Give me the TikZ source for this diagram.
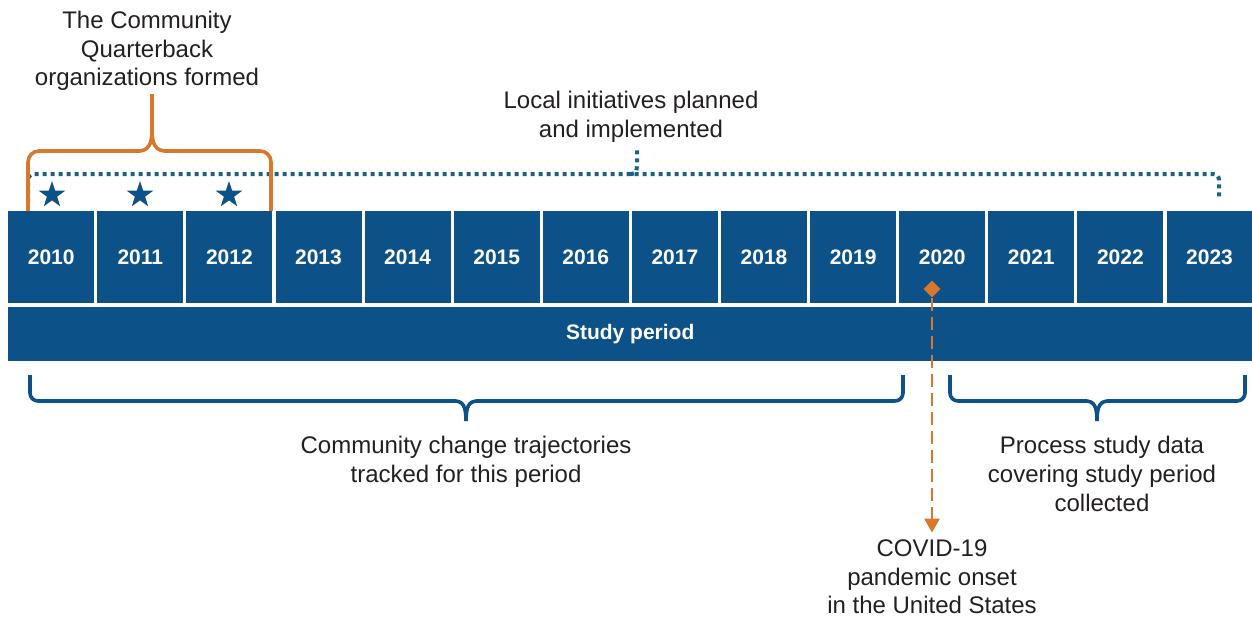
\documentclass[tikz,border=0pt]{standalone}
\usepackage{fontspec}
\setmainfont{Liberation Sans}
\usepackage{tikz}
\usetikzlibrary{arrows.meta}
\usetikzlibrary{positioning}
\usetikzlibrary{shapes}
\definecolor{studyBlue}{HTML}{0D5189}
\definecolor{dotBlue}{HTML}{1B6289}
\definecolor{covidOrange}{HTML}{D9782B}
\definecolor{textGrey}{HTML}{231F20}

\begin{document}
\begin{tikzpicture}[x=1pt,y=-1pt]
\tikzset{YearBox/.style={
  fill=studyBlue,
  text=white,
  minimum width=86pt,
  minimum height=92pt,
  inner sep=0pt,
  font=\fontsize{21}{24}\selectfont\bfseries
}}
\tikzset{Label/.style={
  align=center,
  text=textGrey,
  inner sep=0pt,
  font=\fontsize{24}{28.7}\selectfont
}}
\tikzset{StarMark/.style={star, star points=5, star point ratio=2.6, fill=studyBlue, minimum size=28pt, inner sep=0pt}}
\tikzset{BlueBrace/.style={draw=studyBlue, line width=3.6pt, rounded corners=8pt}}
\tikzset{OrangeBrace/.style={draw=covidOrange, line width=3.6pt, rounded corners=11pt}}
\tikzset{DotLine/.style={draw=dotBlue, line width=4pt, dash pattern=on 4pt off 4pt}}

\useasboundingbox (0,0) rectangle (1252,618);

% year row and study bar
\foreach \yr [count=\i from 0] in {2010,...,2023}
  \node[YearBox, anchor=north west] (y\yr) at (8+\i*89.1, 211) {\raisebox{-2pt}{\yr}};
\node[YearBox, anchor=north west, minimum width=1244pt, minimum height=54pt] (study) at (8,307) {\raisebox{-1.5pt}{Study period}};

% stars for the three formation years
\node[StarMark] (s1) at (52,195) {};
\node[StarMark] (s2) at (140,195) {};
\node[StarMark] (s3) at (229,195) {};

% local initiatives, dotted
\draw[DotLine, rounded corners=6pt] (28,202) -- (28,174) -- (1219,174) -- (1219,200);
\draw[DotLine] (630,174) .. controls (637,174) and (637,170) .. (637,162) -- (637,148);

% orange brace
\draw[OrangeBrace] (28,211) -- (28,151) -- (140,151);
\draw[draw=covidOrange, line width=3.6pt] (138,151) .. controls (148,151) and (152,145) .. (152,130) -- (152,94);
\draw[OrangeBrace] (271,211) -- (271,151) -- (164,151);
\draw[draw=covidOrange, line width=3.6pt] (166,151) .. controls (156,151) and (152,145) .. (152,130);

% blue braces below
\draw[BlueBrace] (30,375) -- (30,401) -- (456,401);
\draw[studyBlue, line width=3.6pt] (454,401) .. controls (463,401) and (466,406) .. (466,421);
\draw[BlueBrace] (903,375) -- (903,401) -- (476,401);
\draw[studyBlue, line width=3.6pt] (478,401) .. controls (469,401) and (466,406) .. (466,421);

\draw[BlueBrace] (950,375) -- (950,401) -- (1087,401);
\draw[studyBlue, line width=3.6pt] (1085,401) .. controls (1094,401) and (1097,406) .. (1097,421);
\draw[BlueBrace] (1245,375) -- (1245,401) -- (1107,401);
\draw[studyBlue, line width=3.6pt] (1109,401) .. controls (1100,401) and (1097,406) .. (1097,421);

% labels
\node[Label] (formed) at (147,51) {The Community\\Quarterback\\organizations formed};
\node[Label] (local) at (631,117) {Local initiatives planned\\and implemented};
\node[Label] (track) at (466,462) {Community change trajectories\\tracked for this period};
\node[Label] (process) at (1102,474) {Process study data\\covering study period\\collected};
\node[Label] (covid) at (932,577) {COVID-19\\pandemic onset\\in the United States};

% covid marker
\node[diamond, fill=covidOrange, minimum size=17pt, inner sep=0pt] (onset) at (932,289) {};
\draw[covidOrange, line width=2.8pt, dash pattern=on 13pt off 6pt,
      -{Triangle[width=15pt,length=14pt]}, shorten >=7pt] (onset) -- (covid.north);
\end{tikzpicture}
\end{document}
